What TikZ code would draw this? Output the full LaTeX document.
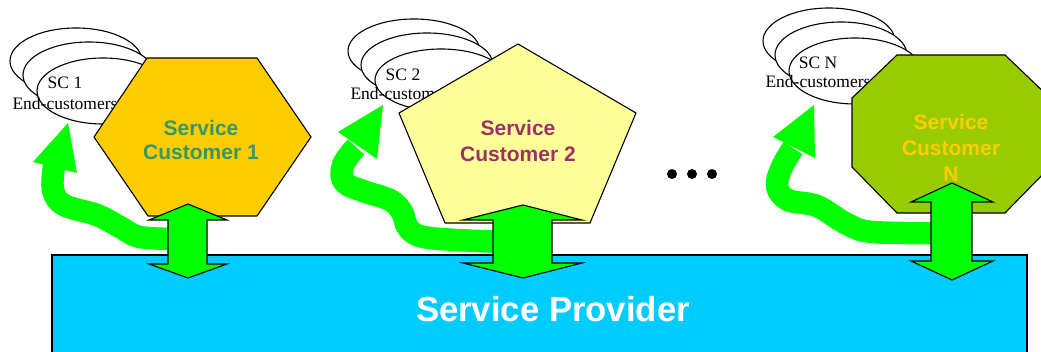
\documentclass[tikz,border=0pt]{standalone}
\usepackage{fontspec}
\setmainfont{Liberation Serif}
\newfontfamily\labelfont{Liberation Sans}

\definecolor{provider}{HTML}{00CCFF}
\definecolor{flow}{HTML}{00FF00}
\definecolor{hexfill}{HTML}{FFCC00}
\definecolor{pentfill}{HTML}{FFFF99}
\definecolor{octfill}{HTML}{99CC00}
\definecolor{tealtext}{HTML}{339966}
\definecolor{plumtext}{HTML}{993366}
\definecolor{goldtext}{HTML}{FFCC00}

\begin{document}
\begin{tikzpicture}[x=1pt, y=-1pt,
  outline/.style={draw=black, line width=1.1pt, line join=miter},
  endcust/.style={outline, fill=white},
  endtext/.style={font=\fontsize{17.5}{20}\selectfont, inner sep=0pt, anchor=base},
  custlabel/.style={font=\labelfont\bfseries\fontsize{21}{24}\selectfont, inner sep=0pt, anchor=base},
  flowband/.style={draw=flow, line width=22.5pt, line cap=butt, line join=round},
  flowhead/.style={fill=flow},
  dblarrow/.style={outline, fill=flow},
  dot/.style={circle, fill=black, inner sep=0pt, minimum size=10pt}]
\useasboundingbox (0,0) rectangle (1041,352);
\clip (0,0) rectangle (1041,352);

% provider platform
\draw[outline, fill=provider] (52,255) rectangle (1027,372);
\node[font=\labelfont\bfseries\fontsize{34.7}{40}\selectfont, text=white,
      inner sep=0pt, anchor=base] (sp) at (553,322) {Service Provider};

% ---------------- customer 1 ----------------
\draw[endcust] (76,61) ellipse [x radius=66pt, y radius=33pt];
\draw[endcust] (89,75) ellipse [x radius=66pt, y radius=33pt];
\draw[endcust] (103,91) ellipse [x radius=66pt, y radius=33pt];
\node[endtext] (ec1a) at (65,89) {SC 1};
\node[endtext] (ec1b) at (65,110) {End-customers};
\draw[outline, fill=hexfill] (147,58) -- (257,58) -- (311,137) -- (257,216)
  -- (148,216) -- (94,137) -- cycle;
\node[custlabel, text=tealtext] (c1a) at (201,136) {Service};
\node[custlabel, text=tealtext] (c1b) at (201,160) {Customer 1};

\coordinate (f1s) at (180,239);
\coordinate (f1b) at (54,166);
\draw[flowband] plot[smooth, tension=0.6] coordinates
  {(f1s) (140,237) (120,227) (97,215) (64,205) (53,190) (f1b)};
\coordinate (f1t) at (68,123);
\fill[flowhead] (f1t) -- (33,162) -- (77,173) -- cycle;

\draw[dblarrow] (188,204) -- (227,220) -- (207,220) -- (207,264) -- (227,264)
  -- (188,278) -- (149,264) -- (168,264) -- (168,220) -- (149,220) -- cycle;

% ---------------- customer 2 ----------------
\draw[endcust] (414,51) ellipse [x radius=66pt, y radius=32pt];
\draw[endcust] (427,65) ellipse [x radius=66pt, y radius=32pt];
\draw[endcust] (441,80) ellipse [x radius=66pt, y radius=31pt];
\node[endtext] (ec2a) at (403,81) {SC 2};
\node[endtext] (ec2b) at (403,100) {End-customers};
\draw[outline, fill=pentfill] (518,44) -- (636,113) -- (590,223) -- (445,223)
  -- (399,113) -- cycle;
\node[custlabel, text=plumtext] (c2a) at (518,136) {Service};
\node[custlabel, text=plumtext] (c2b) at (518,162) {Customer 2};

\coordinate (f2s) at (505,242);
\coordinate (f2b) at (356,147);
\draw[flowband] plot[smooth, tension=0.6] coordinates
  {(f2s) (430,238) (409,229) (402,212) (390,200) (363,191) (344,182) (343,165) (f2b)};
\coordinate (f2t) at (383,105);
\fill[flowhead] (f2t) -- (338,132) -- (377,159) -- cycle;

\draw[dblarrow] (523,205) -- (582,220) -- (552,220) -- (552,263) -- (582,263)
  -- (523,278) -- (463,263) -- (493,263) -- (493,220) -- (463,220) -- cycle;

% ---------------- more customers ----------------
\node[dot] (d1) at (672,174) {};
\node[dot] (d2) at (692,174) {};
\node[dot] (d3) at (712,174) {};

% ---------------- customer N ----------------
\draw[endcust] (829,41) ellipse [x radius=66pt, y radius=33pt];
\draw[endcust] (841,55) ellipse [x radius=66pt, y radius=33pt];
\draw[endcust] (855,71) ellipse [x radius=66pt, y radius=33pt];
\node[endtext] (ecNa) at (818,69) {SC N};
\node[endtext] (ecNb) at (818,88) {End-customers};
\draw[outline, fill=octfill] (897,55) -- (1005,55) -- (1050,98) -- (1050,167)
  -- (1005,213) -- (897,213) -- (852,167) -- (852,98) -- cycle;
\node[custlabel, text=goldtext] (cNa) at (951,130) {Service};
\node[custlabel, text=goldtext] (cNb) at (951,156) {Customer};
\node[custlabel, text=goldtext] (cNc) at (951,182) {N};

\coordinate (fNs) at (942,233);
\coordinate (fNb) at (793,148);
\draw[flowband] plot[smooth, tension=0.6] coordinates
  {(fNs) (873,232) (847,224) (817,206) (788,200) (777,186) (782,167) (fNb)};
\coordinate (fNt) at (814,105);
\fill[flowhead] (fNt) -- (773,137) -- (815,158) -- cycle;

\draw[dblarrow] (952,183) -- (993,202) -- (972,202) -- (972,261) -- (993,261)
  -- (952,280) -- (911,261) -- (931,261) -- (931,202) -- (911,202) -- cycle;
\end{tikzpicture}
\end{document}
